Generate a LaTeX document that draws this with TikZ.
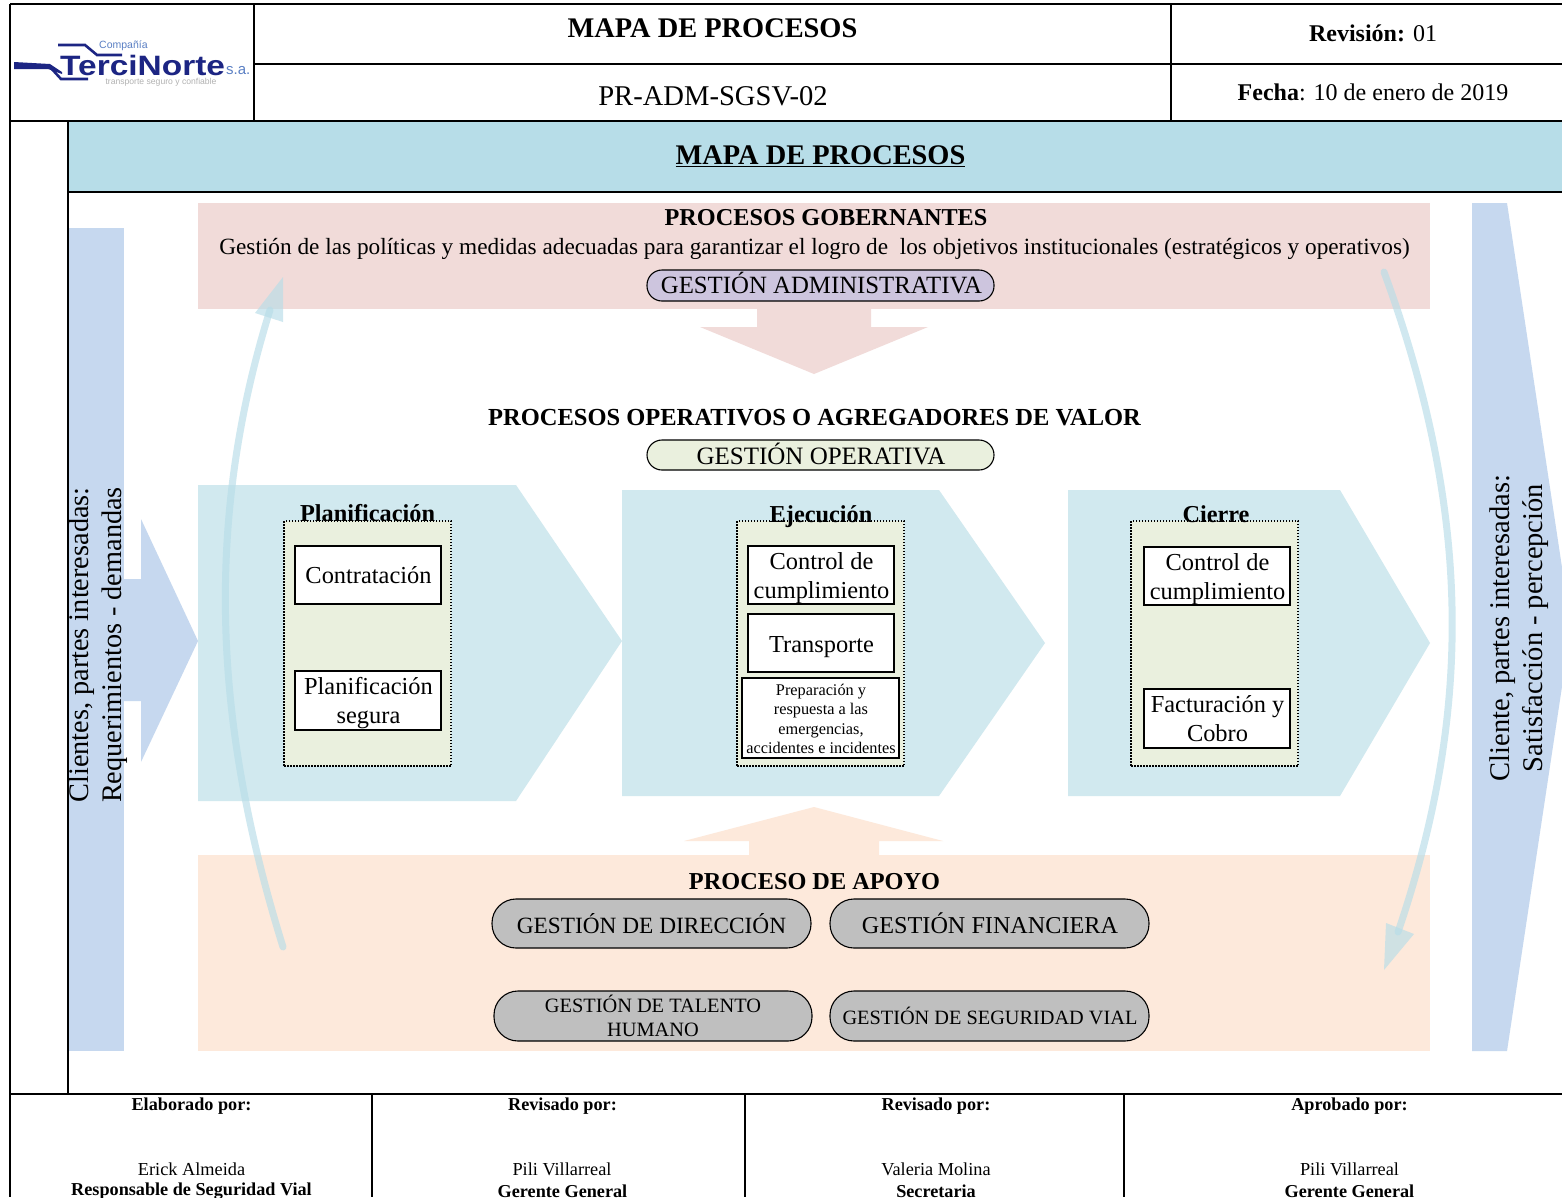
\documentclass[tikz,border=0pt]{standalone}
\usepackage{fontspec}
\setmainfont{Liberation Serif}
\newfontfamily\logofont{Liberation Sans}
\newcommand{\fsz}[1]{\fontsize{#1}{#1}\selectfont}
\definecolor{bandblue}{HTML}{B7DDE8}
\definecolor{pinkfill}{HTML}{F1DBD9}
\definecolor{peachfill}{HTML}{FDE9DB}
\definecolor{sideblue}{HTML}{C6D8EF}
\definecolor{chevfill}{HTML}{D1E9EF}
\definecolor{greenfill}{HTML}{EAF0DE}
\definecolor{purplefill}{HTML}{CDC5DE}
\definecolor{grayfill}{HTML}{BFBFBF}
\definecolor{curveblue}{HTML}{B7DDE8}
\definecolor{logonavy}{HTML}{1C2583}
\definecolor{logoblue}{HTML}{5B80C4}
\tikzset{
  frameline/.style={draw=black,line width=1.2pt},
  txt/.style={inner sep=0pt,align=center,text=black},
  whitebox/.style={draw=black,line width=1.1pt,fill=white,inner sep=0pt},
  boxtext/.style={txt,font=\fontsize{24.4}{29}\selectfont},
  dotbox/.style={draw=black,fill=greenfill,line width=1.1pt,dash pattern=on 1.5pt off 1.5pt,inner sep=0pt,minimum width=167pt,minimum height=245pt},
  pill/.style={draw=black,line width=1.1pt,rounded corners=15pt,inner sep=0pt},
  graypill/.style={pill,fill=grayfill,rounded corners=24pt,minimum width=319pt},
  arcstroke/.style={draw=curveblue,line width=7pt,line cap=round,opacity=.65},
  archead/.style={fill=curveblue,opacity=.65},
  foothead/.style={inner sep=0pt,font=\bfseries\fsz{18.2}},
  footname/.style={inner sep=0pt,font=\fsz{18.3}},
}
\begin{document}
\begin{tikzpicture}[x=1pt,y=-1pt]
\clip (0,0) rectangle (1562,1197);
\fill[white] (0,0) rectangle (1562,1197);
% colour bands
\fill[bandblue] (68,121) rectangle (1562,192);
\fill[pinkfill] (198,203) rectangle (1430,309);
\fill[peachfill] (198,855) rectangle (1430,1051);
\fill[sideblue] (68,228) rectangle (124,1051);
\fill[sideblue] (124,579) -- (141,579) -- (141,519) -- (198,641) -- (141,762) -- (141,701) -- (124,701) -- cycle;
\fill[sideblue] (1472,203) -- (1507,203) -- (1571,627) -- (1507,1051) -- (1472,1051) -- cycle;
\fill[pinkfill] (757,309) -- (871,309) -- (871,327) -- (928,327) -- (814,374) -- (700,327) -- (757,327) -- cycle;
\fill[peachfill] (749,855) -- (879,855) -- (879,841) -- (943,841) -- (814,807) -- (684,841) -- (749,841) -- cycle;
% chevrons
\fill[chevfill] (198,485) -- (516,485) -- (622,641) -- (516,801) -- (198,801) -- cycle;
\fill[chevfill] (622,490) -- (939,490) -- (1045,643) -- (939,796) -- (622,796) -- cycle;
\fill[chevfill] (1068,490) -- (1340,490) -- (1430,643) -- (1340,796) -- (1068,796) -- cycle;
% frame
\draw[frameline] (10,4) -- (1562,4);
\draw[frameline] (254,64) -- (1562,64);
\draw[frameline] (10,121) -- (1562,121);
\draw[frameline] (68,192) -- (1562,192);
\draw[frameline] (10,1094) -- (1562,1094);
\draw[frameline] (10,4) -- (10,1197);
\draw[frameline] (68,121) -- (68,1094);
\draw[frameline] (254,4) -- (254,121);
\draw[frameline] (1171,4) -- (1171,121);
\draw[frameline] (372,1094) -- (372,1197);
\draw[frameline] (745,1094) -- (745,1197);
\draw[frameline] (1124,1094) -- (1124,1197);
% logo
\draw[logonavy,line width=2.6pt] (58,45) -- (85,45) -- (97,55) -- (122,55);
\fill[logonavy] (14,62) -- (50,64) -- (62,72) -- (62,74) -- (48,69) -- (14,69) -- cycle;
\draw[logonavy,line width=2.6pt] (50,67) -- (61,79) -- (88,79);
\node[inner sep=0pt,anchor=base west,text=logonavy,font=\logofont\bfseries\fsz{28},xscale=1.195] (logomain) at (60,75) {TerciNorte};
\node[inner sep=0pt,anchor=base west,text=logoblue,font=\logofont\fsz{10.5}] (logotop) at (99,48.5) {Compañía};
\node[inner sep=0pt,anchor=base west,text=logoblue,font=\logofont\fsz{15}] (logosa) at (226,74) {s.a.};
\node[inner sep=0pt,text=gray!60,font=\logofont\fsz{8.6}] (logosub) at (161,82) {transporte seguro y confiable};
% header text
\node[txt,font=\bfseries\fsz{28.4}] (h1) at (712.5,28) {MAPA DE PROCESOS};
\node[txt,font=\fsz{28.6}] (h2) at (713,96) {PR-ADM-SGSV-02};
\node[txt,font=\fsz{24}] (h3) at (1373,33) {\textbf{Revisión:} 01};
\node[txt,font=\fsz{24}] (h4) at (1373,92) {\textbf{Fecha}: 10 de enero de 2019};
\node[txt,font=\bfseries\fsz{28.4}] (title) at (820.5,156) {\underline{MAPA DE PROCESOS}};
% gobernantes
\node[txt,font=\bfseries\fsz{24.25}] (gob) at (826,218) {PROCESOS GOBERNANTES};
\node[txt,font=\fsz{23.27}] (gobsub) at (814.5,249) {Gestión de las políticas y medidas adecuadas para garantizar el logro de\ \ los objetivos institucionales (estratégicos y operativos)};
\node[pill,fill=purplefill,minimum width=347pt,minimum height=31pt] (admin) at (820.5,285.5) {};
\node[txt,font=\fsz{24.8}] (admintext) at (821.5,283.5) {GESTIÓN ADMINISTRATIVA};
% operativos
\node[txt,font=\bfseries\fsz{24.5}] (oper) at (814.5,418) {PROCESOS OPERATIVOS O AGREGADORES DE VALOR};
\node[pill,fill=greenfill,minimum width=347pt,minimum height=30pt] (goper) at (820.5,455) {};
\node[txt,font=\fsz{25}] (gopertext) at (821,454) {GESTIÓN OPERATIVA};
% side labels
\node[txt,rotate=90,font=\fontsize{28.3}{33}\selectfont] (leftlab) at (98.5,645) {Clientes, partes interesadas:\\Requerimientos - demandas};
\node[txt,rotate=90,font=\fontsize{28.5}{33.5}\selectfont] (rightlab) at (1519,628) {Cliente, partes interesadas:\\Satisfacción - percepción};
% columns
\node[dotbox] (col1) at (367.5,643.5) {};
\node[dotbox] (col2) at (820.5,643.5) {};
\node[dotbox] (col3) at (1214.5,643.5) {};
\node[txt,font=\bfseries\fsz{24.3}] (t1) at (367.5,513) {Planificación};
\node[txt,font=\bfseries\fsz{24.3}] (t2) at (821,517) {Ejecución};
\node[txt,font=\bfseries\fsz{24.3}] (t3) at (1216,514) {Cierre};
\node[whitebox,minimum width=146pt,minimum height=58pt] (b1) at (368,575) {};
\node[boxtext] (b1t) at (368.5,575) {Contratación};
\node[whitebox,minimum width=146pt,minimum height=59pt] (b2) at (368,700.5) {};
\node[boxtext] (b2t) at (368.5,703.5) {Planificación\\segura};
\node[whitebox,minimum width=146pt,minimum height=58pt] (b3) at (821,575) {};
\node[boxtext] (b3t) at (821.5,578) {Control de\\cumplimiento};
\node[whitebox,minimum width=146pt,minimum height=58pt] (b4) at (821,643) {};
\node[boxtext] (b4t) at (821.5,647) {Transporte};
\node[whitebox,minimum width=157pt,minimum height=80pt] (b5) at (820.5,718) {};
\node[txt,font=\fontsize{16.3}{19.5}\selectfont] (b5t) at (821,719) {Preparación y\\respuesta a las\\emergencias,\\accidentes e incidentes};
\node[whitebox,minimum width=146pt,minimum height=58pt] (b6) at (1217,576) {};
\node[boxtext] (b6t) at (1217.5,579) {Control de\\cumplimiento};
\node[whitebox,minimum width=146pt,minimum height=59pt] (b7) at (1217,718.5) {};
\node[boxtext] (b7t) at (1217.5,718.5) {Facturación y\\Cobro};
% apoyo
\node[txt,font=\bfseries\fsz{24.3}] (apoyo) at (814.5,882) {PROCESO DE APOYO};
\node[graypill,minimum height=49pt] (p1) at (651.5,923.5) {};
\node[txt,font=\fsz{23.3}] (p1t) at (651.5,923.5) {GESTIÓN DE DIRECCIÓN};
\node[graypill,minimum height=49pt] (p2) at (989.5,923.5) {};
\node[txt,font=\fsz{24.2}] (p2t) at (990,923.5) {GESTIÓN FINANCIERA};
\node[graypill,minimum width=318pt,minimum height=50pt] (p3) at (653,1016) {};
\node[txt,font=\fontsize{20.35}{24}\selectfont] (p3t) at (653,1015.5) {GESTIÓN DE TALENTO\\HUMANO};
\node[graypill,minimum height=50pt] (p4) at (989.5,1016) {};
\node[txt,font=\fsz{20.3}] (p4t) at (990,1015.5) {GESTIÓN DE SEGURIDAD VIAL};
% cycle arrows
\draw[arcstroke] (283,947) .. controls (225,760) and (195,550) .. (270,310);
\fill[archead] (283,277) -- (255,313) -- (283,322) -- cycle;
\draw[arcstroke] (1384,272) .. controls (1475,520) and (1470,720) .. (1398,932);
\fill[archead] (1386,923) -- (1414,934) -- (1384,970) -- cycle;
% footer
\node[foothead] (f1) at (191.5,1106) {Elaborado por:};
\node[foothead] (f2) at (562.5,1106) {Revisado por:};
\node[foothead] (f3) at (936,1106) {Revisado por:};
\node[foothead] (f4) at (1349.5,1106) {Aprobado por:};
\node[footname] (n1) at (191.5,1169) {Erick Almeida};
\node[footname] (n2) at (562,1169) {Pili Villarreal};
\node[footname] (n3) at (936,1169) {Valeria Molina};
\node[footname] (n4) at (1349.5,1169) {Pili Villarreal};
\node[foothead] (r1) at (191.5,1191.5) {Responsable de Seguridad Vial};
\node[foothead] (r2) at (562.5,1191.5) {Gerente General};
\node[foothead] (r3) at (936,1191.5) {Secretaria};
\node[foothead] (r4) at (1349.5,1191.5) {Gerente General};
\end{tikzpicture}
\end{document}
